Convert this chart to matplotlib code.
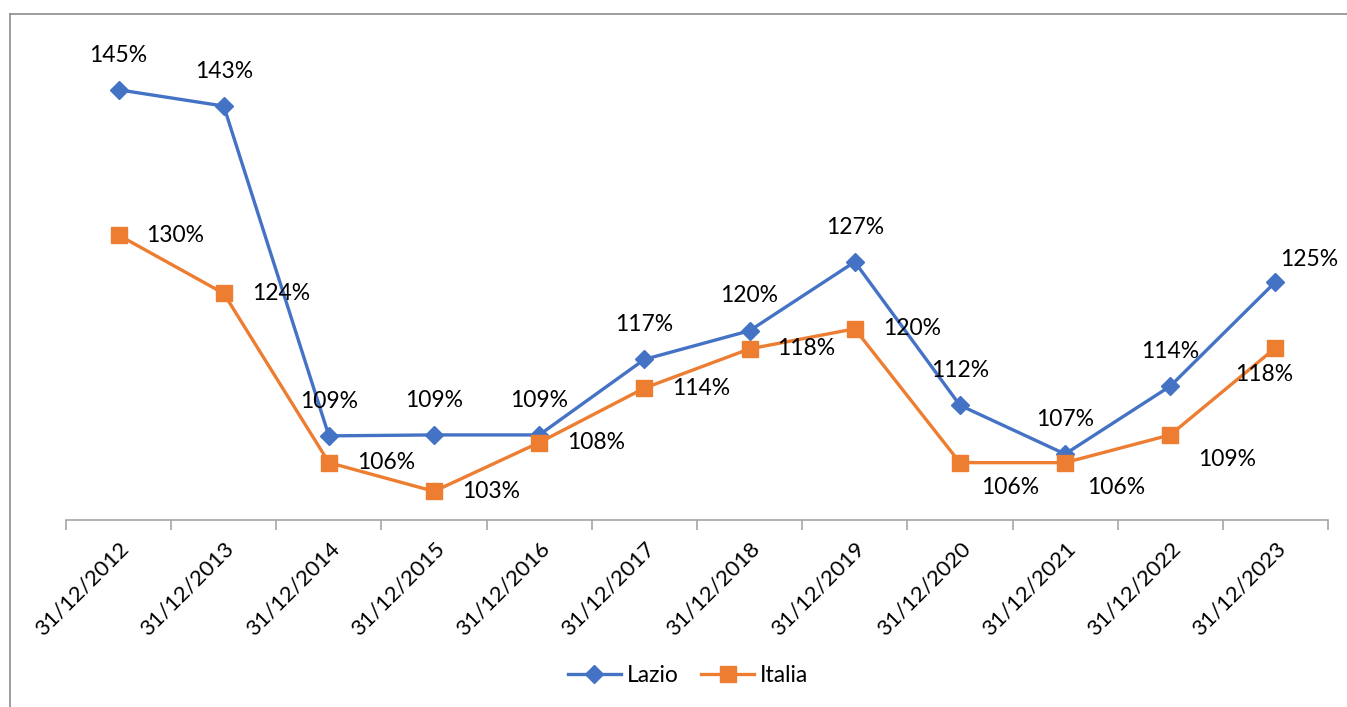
import matplotlib
matplotlib.use("Agg")
from matplotlib import pyplot as plt
from matplotlib.lines import Line2D
import numpy as np

dates = ["31/12/2012", "31/12/2013", "31/12/2014", "31/12/2015", "31/12/2016", "31/12/2017",
         "31/12/2018", "31/12/2019", "31/12/2020", "31/12/2021", "31/12/2022", "31/12/2023"]
lazio = [1.450, 1.433, 1.088, 1.089, 1.089, 1.168, 1.198, 1.270, 1.120, 1.069, 1.140, 1.249]
italia = [1.298, 1.237, 1.060, 1.030, 1.081, 1.138, 1.179, 1.200, 1.060, 1.060, 1.089, 1.180]

# label offsets in points (dx, dy), hand placed like the excel original
lazio_off = [(0, 25)] * 11 + [(24, 16)]
italia_off = [(41, 0)] * 8 + [(36, -18), (37, -18), (41, -18), (-8, -19)]

plt.rcParams["font.family"] = ["Lato", "DejaVu Sans"]
W, H = 1347, 707
fig = plt.figure(figsize=(W / 100, H / 100), dpi=100)

# chart border (left and top edges visible)
fig.add_artist(Line2D([10 / W, 10 / W], [0, 1 - 14 / H], color="#8c8c8c", lw=1.2))
fig.add_artist(Line2D([10 / W, 1], [1 - 14 / H, 1 - 14 / H], color="#8c8c8c", lw=1.2))

ax = fig.add_axes([66 / W, 1 - 520 / H, (1328 - 66) / W, (520 - 42) / H])
x = np.arange(len(dates))
blue = "#4472C4"
orange = "#ED7D31"
ax.plot(x, lazio, color=blue, lw=2.4, marker="D", ms=9.5, label="Lazio", clip_on=False)
ax.plot(x, italia, color=orange, lw=2.4, marker="s", ms=11.5, label="Italia", clip_on=False)

fs = 16.5
for i, v in enumerate(lazio):
    ax.annotate(f"{v:.0%}", (x[i], v), xytext=lazio_off[i], textcoords="offset points",
                ha="center", va="center", fontsize=fs)
for i, v in enumerate(italia):
    ax.annotate(f"{v:.0%}", (x[i], v), xytext=italia_off[i], textcoords="offset points",
                ha="center", va="center", fontsize=fs)

ax.set_xlim(-0.5, len(dates) - 0.5)
ax.set_ylim(1.0, 1.5)
for s in ["left", "right", "top"]:
    ax.spines[s].set_visible(False)
ax.spines["bottom"].set_color("#a6a6a6")
ax.spines["bottom"].set_linewidth(1.2)
ax.set_yticks([])
ax.set_xticks(np.arange(len(dates) + 1) - 0.5)
ax.set_xticklabels([])
ax.tick_params(axis="x", which="major", length=7, color="#a6a6a6", width=1.2)
ax.set_xticks(x, minor=True)
ax.set_xticklabels(dates, minor=True, rotation=45, ha="right", rotation_mode="anchor", fontsize=16)
ax.tick_params(axis="x", which="minor", length=0, pad=13)

fig.legend(loc="center", bbox_to_anchor=(688 / W, 1 - 676 / H), ncol=2, frameon=False,
           fontsize=fs, handlelength=2.3, handletextpad=0.25, columnspacing=1.0)

fig.savefig("out.png", dpi=100)
